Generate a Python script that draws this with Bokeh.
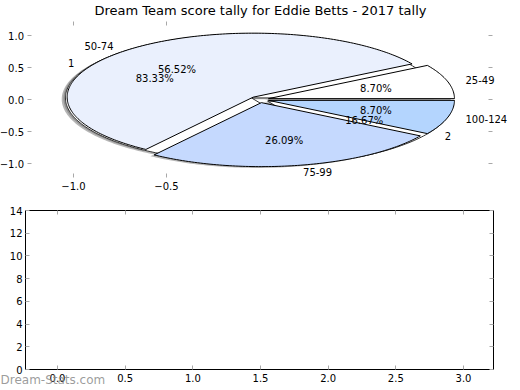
import numpy as np
from bokeh.plotting import figure
from bokeh.models import ColumnDataSource, LabelSet, Label, LinearAxis, FixedTicker, Range1d
from bokeh.core.properties import value
from bokeh.embed import file_html
from bokeh.resources import INLINE

# ---------------- data ----------------
title_text = "Dream Team score tally for Eddie Betts - 2017 tally"
score_labels = ["25-49", "50-74", "75-99", "100-124"]
score_counts = [2, 13, 6, 2]
score_colors = ["#ffffff", "#eaf0fd", "#c5d9fe", "#b4d5fe"]
tally_labels = ["1", "2"]
tally_counts = [5, 1]
explode = 0.05
pie_xticks = [-1.0, -0.5]
pie_xtick_labels = ["\u22121.0", "\u22120.5"]
pie_yticks = [-1.0, -0.5, 0.0, 0.5, 1.0]
pie_ytick_labels = ["\u22121.0", "\u22120.5", "0.0", "0.5", "1.0"]
bar_xticks = [0.0, 0.5, 1.0, 1.5, 2.0, 2.5, 3.0]
bar_xtick_labels = ["0.0", "0.5", "1.0", "1.5", "2.0", "2.5", "3.0"]
bar_yticks = [0, 2, 4, 6, 8, 10, 12, 14]
bar_ytick_labels = ["0", "2", "4", "6", "8", "10", "12", "14"]
watermark = "Dream-Stats.com"

FONT = "DejaVu Sans"
TICK_COLOR = "#a8a8a8"

# axes limits (pie axes, empty axes)
PIE_XLIM = (-1.25, 1.253)
PIE_YLIM = (-1.219, 1.219)
BAR_XLIM = (-0.2365, 3.2217)
BAR_YLIM = (0, 14)


def pie_geometry(counts, labels, expl, shadow=(0.0, 0.0)):
    total = float(sum(counts))
    t1 = 0.0
    out = []
    for c, lab in zip(counts, labels):
        t2 = t1 + c / total * 360.0
        mid = np.deg2rad((t1 + t2) / 2.0)
        cx = expl * np.cos(mid) + shadow[0]
        cy = expl * np.sin(mid) + shadow[1]
        n = max(int(t2 - t1), 2) + 1
        t = np.deg2rad(np.linspace(t1, t2, n))
        xs = [cx] + list(cx + np.cos(t)) + [cx]
        ys = [cy] + list(cy + np.sin(t)) + [cy]
        out.append(dict(xs=xs, ys=ys, mid=mid, cx=cx, cy=cy,
                        pct="%.2f%%" % (c / total * 100.0), label=lab))
        t1 = t2
    return out


def make_axis(ticks, labels, show, fixed, bounds=None, line=False, standoff=3, **kw):
    ov = {t: (l if show else "") for t, l in zip(ticks, labels)}
    ax = LinearAxis(ticker=FixedTicker(ticks=ticks), major_label_overrides=ov,
                    fixed_location=fixed, **kw)
    if bounds is not None:
        ax.bounds = bounds
    ax.axis_line_color = "black" if line else None
    ax.axis_line_width = 1
    ax.major_tick_in = 4
    ax.major_tick_out = 0
    ax.minor_tick_line_color = None
    ax.major_tick_line_color = TICK_COLOR
    ax.major_label_text_font = FONT
    ax.major_label_text_font_size = "10px"
    ax.major_label_text_color = "black"
    ax.major_label_standoff = standoff
    return ax


# one canvas: pie axes on the default ranges, empty axes on extra ranges
p = figure(width=520, height=388, output_backend="svg", toolbar_location=None,
           x_range=Range1d(-259 / 186.0, 261 / 186.0),
           y_range=Range1d((99 - 388) / 64.0, 99 / 64.0),
           min_border=0, x_axis_location=None, y_axis_location=None)
p.extra_x_ranges = {"bx": Range1d(-57 / 135.33, 463 / 135.33)}
p.extra_y_ranges = {"by": Range1d(-19 / 11.357, 369 / 11.357)}
p.outline_line_color = None
p.grid.visible = False
p.background_fill_color = "white"
p.border_fill_color = "white"

# pie axes ticks
p.add_layout(make_axis(pie_xticks, pie_xtick_labels, True, PIE_YLIM[0], standoff=4), "below")
p.add_layout(make_axis(pie_xticks, pie_xtick_labels, False, PIE_YLIM[1]), "above")
p.add_layout(make_axis(pie_yticks, pie_ytick_labels, True, PIE_XLIM[0]), "left")
p.add_layout(make_axis(pie_yticks, pie_ytick_labels, False, PIE_XLIM[1]), "right")

# empty axes (framed)
bk = dict(x_range_name="bx", y_range_name="by")
p.add_layout(make_axis(bar_xticks, bar_xtick_labels, True, BAR_YLIM[0], BAR_XLIM, True, 4, **bk), "below")
p.add_layout(make_axis(bar_xticks, bar_xtick_labels, False, BAR_YLIM[1], BAR_XLIM, True, **bk), "above")
p.add_layout(make_axis(bar_yticks, bar_ytick_labels, True, BAR_XLIM[0], BAR_YLIM, True, **bk), "left")
p.add_layout(make_axis(bar_yticks, bar_ytick_labels, False, BAR_XLIM[1], BAR_YLIM, True, **bk), "right")

score_w = pie_geometry(score_counts, score_labels, explode)
tally_w = pie_geometry(tally_counts, tally_labels, explode)
score_sh = pie_geometry(score_counts, score_labels, explode, shadow=(-0.02, -0.02))
tally_sh = pie_geometry(tally_counts, tally_labels, explode, shadow=(-0.02, -0.02))

# shadows
p.patches(xs=[w["xs"] for w in score_sh + tally_sh], ys=[w["ys"] for w in score_sh + tally_sh],
          fill_color="#6e6e6e", fill_alpha=0.5, line_color=None)
# second pie (white, underneath)
p.patches(xs=[w["xs"] for w in tally_w], ys=[w["ys"] for w in tally_w],
          fill_color="white", line_color="#333333", line_width=1)
# main pie
p.patches(xs=[w["xs"] for w in score_w], ys=[w["ys"] for w in score_w],
          fill_color=score_colors, line_color="black", line_width=1)

lx, ly, lt, la = [], [], [], []
px, py, pt = [], [], []
for w in score_w + tally_w:
    x = w["cx"] + 1.1 * np.cos(w["mid"])
    y = w["cy"] + 1.1 * np.sin(w["mid"])
    lx.append(x); ly.append(y); lt.append(w["label"]); la.append("left" if x > 0 else "right")
    px.append(w["cx"] + 0.6 * np.cos(w["mid"]))
    py.append(w["cy"] + 0.6 * np.sin(w["mid"]))
    pt.append(w["pct"])

for align in ["left", "right"]:
    idx = [i for i, a in enumerate(la) if a == align]
    src = ColumnDataSource(dict(x=[lx[i] for i in idx], y=[ly[i] for i in idx],
                                t=[lt[i] for i in idx]))
    p.add_layout(LabelSet(x="x", y="y", text="t", source=src, text_align=align,
                          text_baseline="middle", text_font=value(FONT),
                          text_font_size=value("10px"), text_color="black"))

psrc = ColumnDataSource(dict(x=px, y=py, t=pt))
p.add_layout(LabelSet(x="x", y="y", text="t", source=psrc, text_align="center",
                      text_baseline="middle", text_font=value(FONT),
                      text_font_size=value("10px"), text_color="black"))

p.add_layout(Label(x=0.005, y=1.39, text=title_text, text_align="center",
                   text_baseline="middle", text_font=FONT, text_font_size="13px",
                   text_color="black"))

p.add_layout(Label(x=BAR_XLIM[0] - 25 / 135.33, y=-0.9, text=watermark, text_align="left",
                   text_baseline="middle", text_font=FONT, text_font_size="12px",
                   text_color="#8a8a8a", text_alpha=0.85,
                   x_range_name="bx", y_range_name="by"))

open("out.html", "w").write(file_html(p, INLINE))
